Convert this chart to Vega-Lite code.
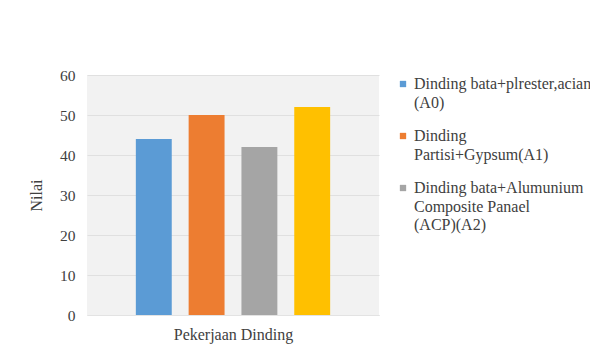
{
  "$schema": "https://vega.github.io/schema/vega-lite/v6.json",
  "width": 292,
  "height": 240,
  "autosize": {"type": "none"},
  "padding": {"left": 87, "top": 75, "right": 211, "bottom": 46},
  "background": "white",
  "data": {
    "values": [
      {"kategori": "Pekerjaan Dinding", "seri": "Dinding bata+plrester,acian (A0)", "nilai": 44},
      {"kategori": "Pekerjaan Dinding", "seri": "Dinding Partisi+Gypsum(A1)", "nilai": 50},
      {"kategori": "Pekerjaan Dinding", "seri": "Dinding bata+Alumunium Composite Panael (ACP)(A2)", "nilai": 42},
      {"kategori": "Pekerjaan Dinding", "seri": "A3", "nilai": 52}
    ]
  },
  "mark": {"type": "bar"},
  "encoding": {
    "x": {
      "field": "seri",
      "type": "nominal",
      "sort": null,
      "scale": {"paddingInner": 0.32, "paddingOuter": 0.925},
      "axis": {
        "title": "Pekerjaan Dinding",
        "labels": false,
        "ticks": false,
        "domain": true,
        "domainColor": "#e3e3e3",
        "titlePadding": 11
      }
    },
    "y": {
      "field": "nilai",
      "type": "quantitative",
      "scale": {"domain": [0, 60]},
      "axis": {
        "title": "Nilai",
        "values": [0, 10, 20, 30, 40, 50, 60],
        "labelPadding": 12,
        "ticks": false,
        "domain": false,
        "gridColor": "#e0e0e0",
        "titlePadding": 15
      }
    },
    "color": {
      "field": "seri",
      "type": "nominal",
      "sort": null,
      "scale": {
        "domain": ["Dinding bata+plrester,acian (A0)", "Dinding Partisi+Gypsum(A1)", "Dinding bata+Alumunium Composite Panael (ACP)(A2)", "A3"],
        "range": ["#5B9BD5", "#ED7D31", "#A5A5A5", "#FFC000"]
      },
      "legend": {
        "title": null,
        "orient": "none",
        "legendX": 308,
        "legendY": 1,
        "values": ["Dinding bata+plrester,acian (A0)", "Dinding Partisi+Gypsum(A1)", "Dinding bata+Alumunium Composite Panael (ACP)(A2)"],
        "symbolType": "square",
        "symbolSize": 40,
        "symbolStrokeWidth": 0,
        "labelLimit": 300,
        "labelOffset": 3,
        "labelBaseline": "top",
        "rowPadding": 17,
        "labelExpr": "datum.label == 'Dinding bata+plrester,acian (A0)' ? ['Dinding bata+plrester,acian', '(A0)'] : datum.label == 'Dinding Partisi+Gypsum(A1)' ? ['Dinding', 'Partisi+Gypsum(A1)'] : ['Dinding bata+Alumunium', 'Composite Panael', '(ACP)(A2)']",
        "encode": {"labels": {"update": {"dy": {"value": -8}, "lineHeight": {"value": 18.5}}}}
      }
    }
  },
  "config": {
    "font": "'Liberation Serif', 'Times New Roman', 'DejaVu Serif', serif",
    "axis": {
      "labelFont": "'Liberation Serif', 'Times New Roman', 'DejaVu Serif', serif",
      "titleFont": "'Liberation Serif', 'Times New Roman', 'DejaVu Serif', serif",
      "labelFontSize": 15.5,
      "titleFontSize": 16,
      "titleFontWeight": "normal",
      "labelColor": "#404040",
      "titleColor": "#404040"
    },
    "legend": {
      "labelFont": "'Liberation Serif', 'Times New Roman', 'DejaVu Serif', serif",
      "labelFontSize": 16,
      "labelColor": "#404040"
    },
    "view": {"fill": "#f2f2f2", "stroke": null}
  }
}
